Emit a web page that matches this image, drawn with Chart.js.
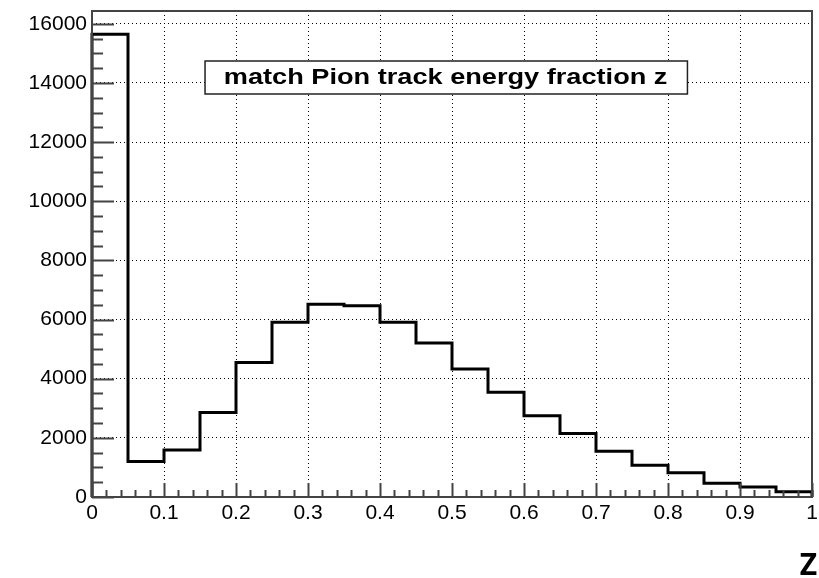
<!DOCTYPE html>
<html>
<head>
<meta charset="utf-8">
<script src="https://cdn.jsdelivr.net/npm/chart.js@4/dist/chart.umd.min.js"></script>
<style>
  html, body { margin: 0; padding: 0; background: #fff; }
  canvas { display: block; }
</style>
</head>
<body>
<canvas id="c" width="819" height="578"></canvas>
<script>
// Histogram of the matched-pion track energy fraction z (20 bins on [0, 1])
const binLowEdges = [0.00, 0.05, 0.10, 0.15, 0.20, 0.25, 0.30, 0.35, 0.40, 0.45,
                     0.50, 0.55, 0.60, 0.65, 0.70, 0.75, 0.80, 0.85, 0.90, 0.95];
const binWidth = 0.05;
const counts = [15650, 1200, 1590, 2860, 4550, 5910, 6515, 6465, 5910, 5210,
                4325, 3540, 2750, 2150, 1548, 1070, 816, 469, 334, 175];

const xTickValues = [0, 0.1, 0.2, 0.3, 0.4, 0.5, 0.6, 0.7, 0.8, 0.9, 1];
const xTickLabels = ['0', '0.1', '0.2', '0.3', '0.4', '0.5', '0.6', '0.7', '0.8', '0.9', '1'];
const yTickValues = [0, 2000, 4000, 6000, 8000, 10000, 12000, 14000, 16000];
const yTickLabels = ['0', '2000', '4000', '6000', '8000', '10000', '12000', '14000', '16000'];

const histTitle = 'match Pion track energy fraction z';
const xAxisTitle = 'Z';

// Y range: 5% headroom above the tallest bin
const yMax = Math.max(...counts) * 1.05;

// Outline of the histogram as a step path (bin edges -> counts)
const outline = [{ x: binLowEdges[0], y: 0 }];
binLowEdges.forEach((x0, i) => outline.push({ x: x0, y: counts[i] }));
const xEnd = binLowEdges[binLowEdges.length - 1] + binWidth;
outline.push({ x: xEnd, y: counts[counts.length - 1] });
outline.push({ x: xEnd, y: 0 });

const FRAME_COLOR = '#444';

// Frame, inward tick marks, the boxed title and the axis name
const rootStyle = {
  id: 'rootStyle',
  afterDatasetsDraw(chart) {
    const { ctx, chartArea: a, scales: { x, y } } = chart;
    ctx.save();
    ctx.strokeStyle = FRAME_COLOR;
    ctx.lineWidth = 2;
    ctx.beginPath();
    // x ticks: major every 0.1, minor every 0.02
    for (let k = 0; k <= 50; k++) {
      const v = k / 50;
      const px = Math.round(x.getPixelForValue(v)) + 0.5;
      const len = (k % 5 === 0) ? 14 : 7;
      ctx.moveTo(px, a.bottom);
      ctx.lineTo(px, a.bottom - len);
    }
    // y ticks: major every 2000, minor every 500
    for (let v = 0; v <= y.max; v += 500) {
      const py = Math.round(y.getPixelForValue(v)) + 0.5;
      const len = (v % 2000 === 0) ? 22 : 11;
      ctx.moveTo(a.left, py);
      ctx.lineTo(a.left + len, py);
    }
    ctx.stroke();
    ctx.strokeRect(a.left, a.top, a.right - a.left, a.bottom - a.top);

    // Title box
    const bx = a.left + (a.right - a.left) * 0.157;
    const bw = (a.right - a.left) * 0.67;
    const by = a.top + 50;
    const bh = 33;
    ctx.fillStyle = '#fff';
    ctx.fillRect(bx, by, bw, bh);
    ctx.strokeStyle = '#222';
    ctx.lineWidth = 1.5;
    ctx.strokeRect(bx, by, bw, bh);

    // Title text, widened to fill the box like the original font rendering
    ctx.fillStyle = '#000';
    ctx.font = 'bold 22px "Liberation Sans", Arial, sans-serif';
    ctx.textAlign = 'left';
    ctx.textBaseline = 'alphabetic';
    const m = ctx.measureText(histTitle);
    const inkW = m.actualBoundingBoxLeft + m.actualBoundingBoxRight;
    const sx = (bw - 40) / inkW;
    ctx.save();
    ctx.translate(bx + bw / 2 - (inkW * sx) / 2, by + 23);
    ctx.scale(sx, 1);
    ctx.fillText(histTitle, m.actualBoundingBoxLeft, 0);
    ctx.restore();

    // Axis name at the lower right
    ctx.font = 'bold 30px "Open Sans", sans-serif';
    ctx.textAlign = 'right';
    ctx.fillText(xAxisTitle, a.right + 5, 575);
    ctx.restore();
  }
};

const tickFont = { family: '"Liberation Sans", Arial, sans-serif', size: 21 };

new Chart(document.getElementById('c'), {
  type: 'line',
  data: {
    datasets: [{
      data: outline,
      stepped: 'before',
      borderColor: '#000',
      borderWidth: 3,
      pointRadius: 0,
      fill: false,
      clip: 4
    }]
  },
  options: {
    responsive: false,
    animation: false,
    events: [],
    layout: { padding: { top: 11, right: 7, left: 0, bottom: 0 } },
    plugins: { legend: { display: false }, tooltip: { enabled: false }, title: { display: false } },
    scales: {
      x: {
        type: 'linear',
        min: 0,
        max: 1,
        afterFit(s) { s.height = 81; s.paddingLeft = 0; s.paddingRight = 0; },
        afterBuildTicks(s) { s.ticks = xTickValues.map(v => ({ value: v })); },
        ticks: {
          font: tickFont,
          color: '#000',
          padding: 4,
          maxRotation: 0,
          autoSkip: false,
          callback: (v, i) => xTickLabels[i]
        },
        grid: { color: '#000', lineWidth: 1, drawTicks: false },
        border: { display: false, dash: [1, 3] }
      },
      y: {
        type: 'linear',
        min: 0,
        max: yMax,
        afterFit(s) { s.width = 92; s.paddingTop = 0; s.paddingBottom = 0; },
        afterBuildTicks(s) { s.ticks = yTickValues.map(v => ({ value: v })); },
        ticks: {
          font: tickFont,
          color: '#000',
          padding: 5,
          autoSkip: false,
          callback: (v, i) => yTickLabels[i]
        },
        grid: { color: '#000', lineWidth: 1, drawTicks: false },
        border: { display: false, dash: [1, 3] }
      }
    }
  },
  plugins: [rootStyle]
});
</script>
</body>
</html>
